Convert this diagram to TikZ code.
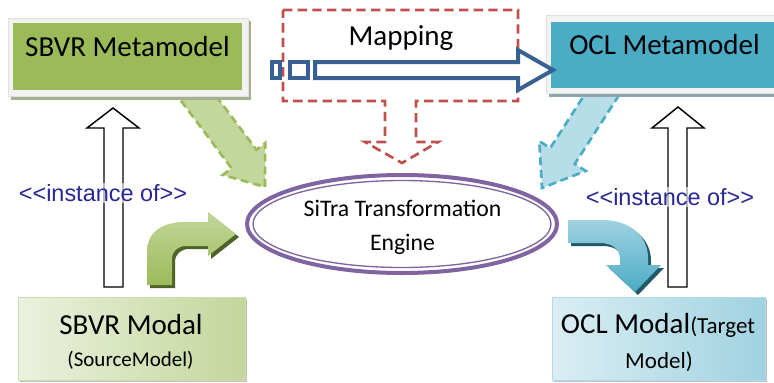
\documentclass[tikz,border=0pt]{standalone}
\usepackage{fontspec}
\setmainfont{Carlito}
\newfontfamily\arialf{Liberation Sans}
\usetikzlibrary{fit}
\definecolor{sbvrgreen}{RGB}{155,187,89}
\definecolor{lightgreen}{RGB}{195,214,155}
\definecolor{palegreen}{RGB}{235,241,222}
\definecolor{oclteal}{RGB}{75,172,198}
\definecolor{lightteal}{RGB}{183,222,232}
\definecolor{paleteal}{RGB}{218,238,243}
\definecolor{midteal}{RGB}{160,210,225}
\definecolor{mapred}{RGB}{192,80,77}
\definecolor{mapblue}{RGB}{56,96,146}
\definecolor{engpurple}{RGB}{128,100,162}
\definecolor{instblue}{RGB}{40,40,150}
\definecolor{framegray}{RGB}{242,242,242}
\definecolor{shadowgreen}{RGB}{165,175,145}
\definecolor{shadowteal}{RGB}{140,165,175}
\definecolor{darkgreen}{RGB}{79,98,40}
\definecolor{darkteal}{RGB}{33,89,104}
\begin{document}
\begin{tikzpicture}[x=0.75pt,y=-0.75pt,
  bigtxt/.style={font=\fontsize{21.75}{26}\selectfont},
  engtxtstyle/.style={font=\fontsize{17.8}{25.5}\selectfont, align=center},
  insttxt/.style={font=\arialf\fontsize{17.6}{20}\selectfont, text=instblue, fill=white, fill opacity=0.6, text opacity=1, inner sep=1pt},
  frame/.style={inner sep=0pt, fill=framegray, draw=black!12, line width=0.5pt},
  dashgreen/.style={fill=lightgreen, draw=sbvrgreen, line width=2pt, dash pattern=on 6pt off 3.5pt},
  dashteal/.style={fill=lightteal, draw=oclteal, line width=2pt, dash pattern=on 6pt off 3.5pt},
  hollowup/.style={fill=white, draw=black, line width=1.1pt, line join=miter},
  bluehollow/.style={fill=white, draw=mapblue, line width=3pt, line join=miter}]
\useasboundingbox (0,0) rectangle (774,382);
\fill[white] (0,0) rectangle (774,382);

% dashed block arrows from metamodels toward the engine
\path[dashgreen] (200.9,75.7) -- (256.4,149.7) -- (265.2,143.1) -- (265,187) -- (222.8,174.9) -- (231.6,168.3) -- (176.1,94.3) -- cycle;
\path[dashteal] (596.1,76.7) -- (550.2,148.1) -- (539.3,141.1) -- (542,188) -- (585.7,170.9) -- (574.8,163.9) -- (620.7,92.5) -- cycle;

% SBVR Metamodel
\fill[shadowgreen] (11,21) rectangle (251,100);
\node[frame, fit={(8,18) (248,96)}] (sbvrframe) {};
\node[inner sep=0pt, fill=sbvrgreen, fit={(13,23) (242,90)}, bigtxt] (sbvrmeta) {SBVR Metamodel};

% OCL Metamodel
\fill[shadowteal] (549,19) rectangle (776,97);
\node[frame, fit={(546,15) (776,93)}] (oclframe) {};
\node[inner sep=0pt, fill=oclteal, fit={(551,22) (778,88)}, bigtxt] (oclmeta) {OCL Metamodel};

% Mapping callout
\draw[mapred, line width=2pt, dash pattern=on 7pt off 4pt] (283,10) -- (518,10) -- (518,101) -- (416,101) -- (416,142) -- (438,142) -- (402,163) -- (365,142) -- (385,142) -- (385,101) -- (283,101) -- cycle;
\node[bigtxt] (maptxt) at (401,38) {Mapping};

% blue hollow arrow
\path[bluehollow] (272,62) rectangle (280,78);
\path[bluehollow] (290,62) rectangle (308,78);
\path[bluehollow] (315,62) -- (518,62) -- (518,50) -- (553,70) -- (518,90) -- (518,78) -- (315,78) -- cycle;

% engine
\coordinate (eng) at (402,224);
\draw[engpurple, line width=3pt] (eng) ellipse [x radius=155, y radius=49];
\draw[engpurple, line width=1pt, fill=white] (eng) ellipse [x radius=149, y radius=43.5];
\node[engtxtstyle] (engtxt) at (402.5,227) {SiTra Transformation\\Engine};

% instance-of arrows
\path[hollowup] (104,287) -- (104,128) -- (87,128) -- (113,108) -- (139,128) -- (123,128) -- (123,287) -- cycle;
\path[hollowup] (668,287) -- (668,128) -- (652,128) -- (678,107) -- (704,128) -- (687,128) -- (687,287) -- cycle;
\node[insttxt] (instl) at (103,193) {<<instance of>>};
\node[insttxt] (instr) at (670,197) {<<instance of>>};

% green bent arrow
\fill[darkgreen, shift={(3,3)}] (147,285) -- (147,252) .. controls (147,232) and (162,222) .. (185,222) -- (208,222) -- (208,212) -- (236,234) -- (208,256) -- (208,246) -- (186,246) .. controls (178,246) and (172,251) .. (172,259) -- (172,285) -- cycle;
\shade[top color=lightgreen, bottom color=sbvrgreen] (147,285) -- (147,252) .. controls (147,232) and (162,222) .. (185,222) -- (208,222) -- (208,212) -- (236,234) -- (208,256) -- (208,246) -- (186,246) .. controls (178,246) and (172,251) .. (172,259) -- (172,285) -- cycle;

% teal bent arrow
\fill[darkteal, shift={(3,3)}] (568,220) -- (602,220) .. controls (630,220) and (648,236) .. (648,258) -- (648,265) -- (661,265) -- (635,292) -- (606,265) -- (620,265) -- (620,260) .. controls (620,249) and (612,243) .. (600,243) -- (568,243) -- cycle;
\shade[top color=midteal, bottom color=oclteal] (568,220) -- (602,220) .. controls (630,220) and (648,236) .. (648,258) -- (648,265) -- (661,265) -- (635,292) -- (606,265) -- (620,265) -- (620,260) .. controls (620,249) and (612,243) .. (600,243) -- (568,243) -- cycle;

% SBVR Modal
\fill[black!25] (20,299) rectangle (247,382);
\node[inner sep=0pt, left color=palegreen, right color=lightgreen, draw=lightgreen!80, line width=0.5pt, fit={(18,297) (245,380)}] (sbvrmodal) {};
\node[bigtxt] (sbvrmodaltxt) at (131,325) {SBVR Modal};
\node[font=\fontsize{15.75}{18}\selectfont] (sbvrsrc) at (130.5,360) {(SourceModel)};

% OCL Modal
\fill[black!25] (554,299) rectangle (767,382);
\node[inner sep=0pt, left color=paleteal, right color=midteal, draw=midteal!80, line width=0.5pt, fit={(552,297) (765,380)}] (oclmodal) {};
\node[bigtxt] (oclmodaltxt) at (658,325) {OCL Modal{\fontsize{17.25}{20}\selectfont(Target}};
\node[font=\fontsize{17.25}{20}\selectfont] (ocltgt) at (659,362) {Model)};
\end{tikzpicture}
\end{document}
